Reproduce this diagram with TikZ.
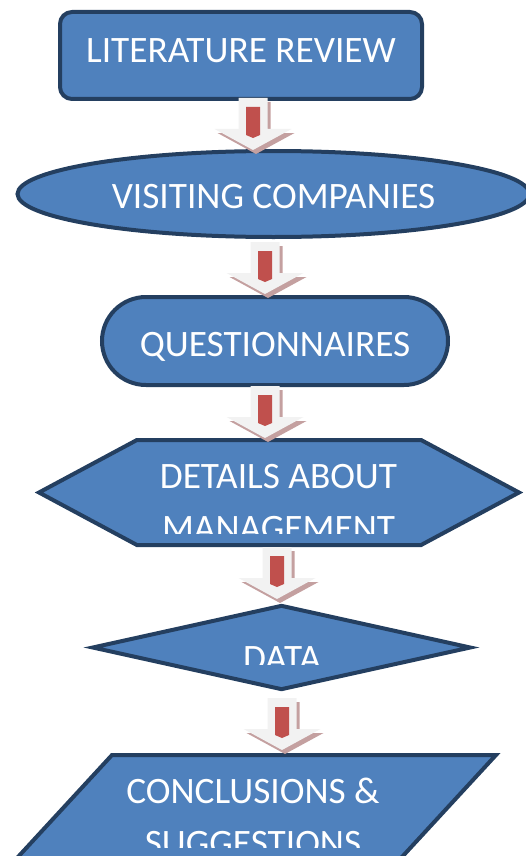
\documentclass[tikz,border=0pt]{standalone}
\usepackage{fontspec}
\setmainfont{Carlito}
\usepackage{tikz}
\usetikzlibrary{shapes.geometric,shapes.symbols}

\definecolor{boxfill}{HTML}{4F81BD}
\definecolor{boxline}{HTML}{243F60}
\definecolor{barred}{HTML}{C0504D}
\definecolor{arrowgrey}{HTML}{F2F2F2}
\definecolor{arrowshade}{HTML}{C4A0A0}

\tikzset{
    flowshape/.style={draw=boxline, fill=boxfill, line width=4pt, inner sep=0pt},
    flowtext/.style={text=white, font=\fontsize{37.3}{52}\selectfont, anchor=base, inner sep=0pt, align=center},
}

% block arrow, #1,#2 = top of the shaft
\newcommand{\flowarrow}[2]{
    \begin{scope}[shift={(#1,#2)}]
        \fill[arrowshade] (-11.5,4) -- (17.5,4) -- (17.5,35) -- (41.5,35) -- (3,56) -- (-35.5,35) -- (-11.5,35) -- cycle;
        \fill[arrowgrey] (-14.5,0) -- (14.5,0) -- (14.5,31) -- (38.5,31) -- (0,52) -- (-38.5,31) -- (-14.5,31) -- cycle;
        \fill[barred] (-7,9) -- (7,9) -- (7,37) -- (0,40) -- (-7,37) -- cycle;
    \end{scope}
}

\begin{document}
\begin{tikzpicture}[x=1pt,y=-1pt]
    \clip (0,0) rectangle (526,856);

    \node[flowshape, rectangle, rounded corners=12pt, minimum width=362pt, minimum height=87pt] (lit) at (241,55.5) {};
    \node[flowshape, ellipse, minimum width=512pt, minimum height=86pt] (visit) at (273.5,194) {};
    \node[flowshape, rectangle, rounded corners=44pt, minimum width=346pt, minimum height=88pt] (quest) at (275,341) {};
    \node[flowshape, signal, signal to=east and west, signal pointer angle=56.4, minimum width=480pt, minimum height=105pt] (details) at (279,492.5) {};
    \node[flowshape, diamond, minimum width=379pt, minimum height=85pt] (data) at (281.5,647.5) {};
    \node[flowshape, rectangle, xslant=0.922, transform shape, minimum width=384pt, minimum height=105pt] (concl) at (255.6,807.5) {};

    % labels (base = last line)
    \node[flowtext] (littext) at (241,63) {LITERATURE REVIEW};
    \node[flowtext] (visittext) at (273.5,208) {VISITING COMPANIES};
    \node[flowtext] (questtext) at (275,356) {QUESTIONNAIRES};
    \begin{scope}
        \clip (40,440) rectangle (520,533);
        \node[flowtext] (detailstext) at (278.5,540) {DETAILS ABOUT\\MANAGEMENT};
    \end{scope}
    \begin{scope}
        \clip (92,605) rectangle (471,664);
        \node[flowtext] (datatext) at (282,670) {DATA};
    \end{scope}
    \begin{scope}
        \clip (0,755) rectangle (526,847);
        \node[flowtext] (concltext) at (253,855) {CONCLUSIONS \&\\SUGGESTIONS};
    \end{scope}

    % arrows between the steps
    \flowarrow{253}{98}
    \flowarrow{265}{242}
    \flowarrow{265}{386}
    \flowarrow{277}{547}
    \flowarrow{282}{698}
\end{tikzpicture}
\end{document}
